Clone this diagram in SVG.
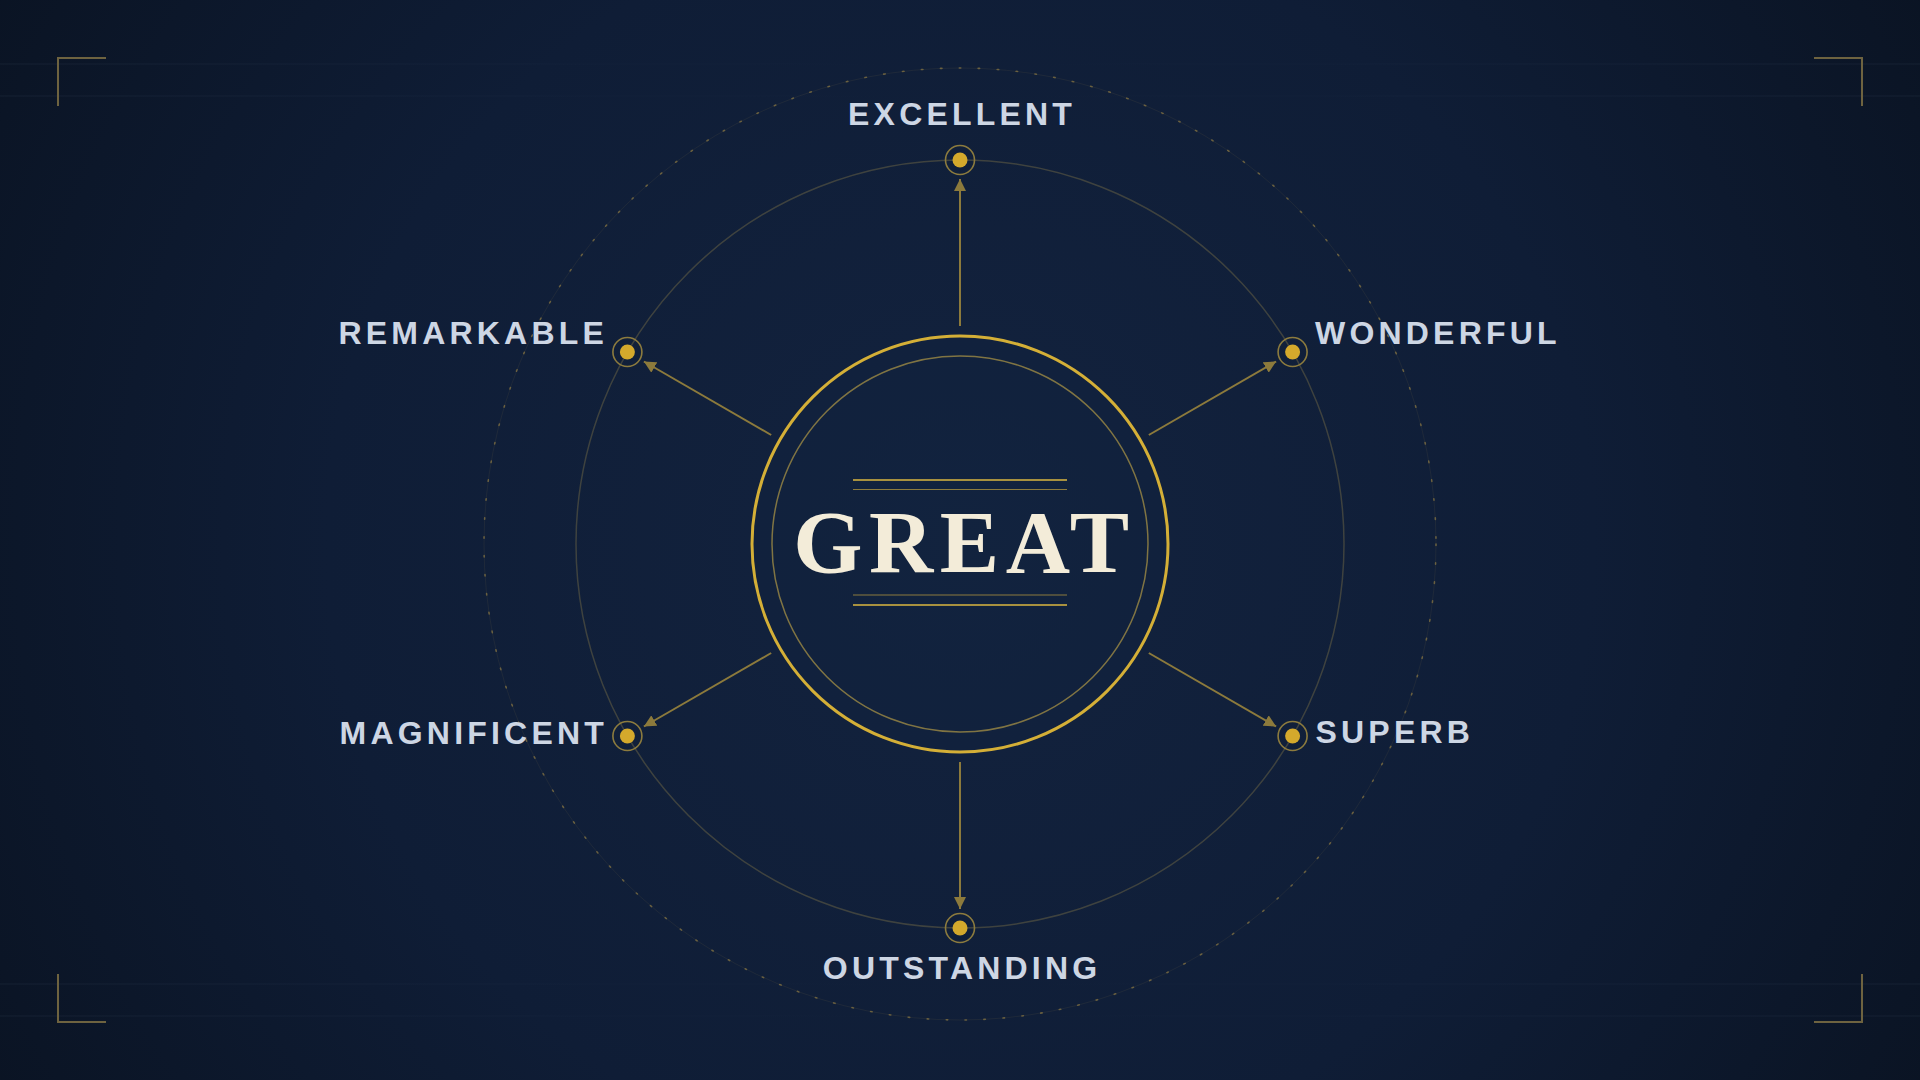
<svg xmlns="http://www.w3.org/2000/svg" width="1920" height="1080" viewBox="0 0 1920 1080">
  <defs>
    <radialGradient id="bg" cx="960" cy="544" r="1150" gradientUnits="userSpaceOnUse">
      <stop offset="0" stop-color="#13233f"/>
      <stop offset="0.55" stop-color="#0f1d36"/>
      <stop offset="1" stop-color="#0a1322"/>
    </radialGradient>
    <linearGradient id="hline" x1="0" y1="0" x2="1920" y2="0" gradientUnits="userSpaceOnUse">
      <stop offset="0" stop-color="#8fa3c0" stop-opacity="0.08"/>
      <stop offset="0.3" stop-color="#8fa3c0" stop-opacity="0.02"/>
      <stop offset="0.5" stop-color="#8fa3c0" stop-opacity="0"/>
      <stop offset="0.7" stop-color="#8fa3c0" stop-opacity="0.02"/>
      <stop offset="1" stop-color="#8fa3c0" stop-opacity="0.08"/>
    </linearGradient>
    <marker id="arrow" viewBox="0 0 12 12" refX="12" refY="6" markerWidth="12" markerHeight="12" markerUnits="userSpaceOnUse" orient="auto">
      <path d="M0,0 L12,6 L0,12 Z" fill="#8c7a3c"/>
    </marker>
    <style>
      .label { font-family: "Liberation Sans", Arial, sans-serif; font-weight: bold; font-size: 32px; letter-spacing: 4.2px; fill: #cdd6e4; }
      .ring { fill: none; stroke: #8c7b3e; stroke-width: 1.6; }
      .dot { fill: #d4a92c; }
      .conn { stroke: #8c7a3c; stroke-width: 2; fill: none; marker-end: url(#arrow); }
      .bracket { fill: none; stroke: #6e6340; stroke-width: 2; }
    </style>
  </defs>

  <rect x="0" y="0" width="1920" height="1080" fill="url(#bg)"/>

  <g id="background-lines">
    <line x1="0" y1="64" x2="1920" y2="64" stroke="url(#hline)" stroke-width="1"/>
    <line x1="0" y1="96" x2="1920" y2="96" stroke="url(#hline)" stroke-width="1"/>
    <line x1="0" y1="984" x2="1920" y2="984" stroke="url(#hline)" stroke-width="1"/>
    <line x1="0" y1="1016" x2="1920" y2="1016" stroke="url(#hline)" stroke-width="1"/>
  </g>

  <g id="corner-brackets">
    <path class="bracket" d="M58,106 L58,58 L106,58"/>
    <path class="bracket" d="M1814,58 L1862,58 L1862,106"/>
    <path class="bracket" d="M58,974 L58,1022 L106,1022"/>
    <path class="bracket" d="M1814,1022 L1862,1022 L1862,974"/>
  </g>

  <g id="orbits">
    <circle cx="960" cy="544" r="476" fill="none" stroke="#c9a74a" stroke-opacity="0.08" stroke-width="1"/>
    <circle cx="960" cy="544" r="476" fill="none" stroke="#c9a74a" stroke-opacity="0.45" stroke-width="1.6" stroke-dasharray="1.5 17.5" stroke-linecap="round"/>
    <circle cx="960" cy="544" r="384" fill="none" stroke="#b89d50" stroke-opacity="0.28" stroke-width="1.5"/>
  </g>

  <g id="connectors">
    <line class="conn" x1="960" y1="326" x2="960" y2="179"/>
    <line class="conn" x1="960" y1="762" x2="960" y2="909"/>
    <line class="conn" x1="771.2" y1="435" x2="643.9" y2="361.5"/>
    <line class="conn" x1="1148.8" y1="435" x2="1276.1" y2="361.5"/>
    <line class="conn" x1="771.2" y1="653" x2="643.9" y2="726.5"/>
    <line class="conn" x1="1148.8" y1="653" x2="1276.1" y2="726.5"/>
  </g>

  <g id="center-great">
    <circle cx="960" cy="544" r="208" fill="#12223f" fill-opacity="0.4" stroke="#d4af37" stroke-width="3"/>
    <circle cx="960" cy="544" r="188" fill="none" stroke="#9c8a45" stroke-opacity="0.8" stroke-width="1.5"/>
    <line x1="853" y1="480" x2="1067" y2="480" stroke="#a8913f" stroke-width="2.2"/>
    <line x1="853" y1="489.5" x2="1067" y2="489.5" stroke="#8c7b3e" stroke-width="1.2"/>
    <line x1="853" y1="595" x2="1067" y2="595" stroke="#8c7b3e" stroke-width="1.2"/>
    <line x1="853" y1="605" x2="1067" y2="605" stroke="#a8913f" stroke-width="2.2"/>
    <text x="964.5" y="572" text-anchor="middle" font-family="'Liberation Serif', 'Times New Roman', serif" font-weight="bold" font-size="89" letter-spacing="6.5" fill="#f3ecd9">GREAT</text>
  </g>

  <g id="node-excellent">
    <circle class="ring" cx="960" cy="160" r="14.5"/>
    <circle class="dot" cx="960" cy="160" r="7.5"/>
    <text class="label" x="962.1" y="125" text-anchor="middle">EXCELLENT</text>
  </g>

  <g id="node-remarkable">
    <circle class="ring" cx="627.4" cy="352" r="14.5"/>
    <circle class="dot" cx="627.4" cy="352" r="7.5"/>
    <text class="label" x="608" y="344" text-anchor="end">REMARKABLE</text>
  </g>

  <g id="node-wonderful">
    <circle class="ring" cx="1292.6" cy="352" r="14.5"/>
    <circle class="dot" cx="1292.6" cy="352" r="7.5"/>
    <text class="label" x="1315" y="344" text-anchor="start">WONDERFUL</text>
  </g>

  <g id="node-magnificent">
    <circle class="ring" cx="627.4" cy="736" r="14.5"/>
    <circle class="dot" cx="627.4" cy="736" r="7.5"/>
    <text class="label" x="608" y="743.5" text-anchor="end">MAGNIFICENT</text>
  </g>

  <g id="node-superb">
    <circle class="ring" cx="1292.6" cy="736" r="14.5"/>
    <circle class="dot" cx="1292.6" cy="736" r="7.5"/>
    <text class="label" x="1315.5" y="742.5" text-anchor="start">SUPERB</text>
  </g>

  <g id="node-outstanding">
    <circle class="ring" cx="960" cy="928" r="14.5"/>
    <circle class="dot" cx="960" cy="928" r="7.5"/>
    <text class="label" x="962.1" y="979" text-anchor="middle">OUTSTANDING</text>
  </g>
</svg>
